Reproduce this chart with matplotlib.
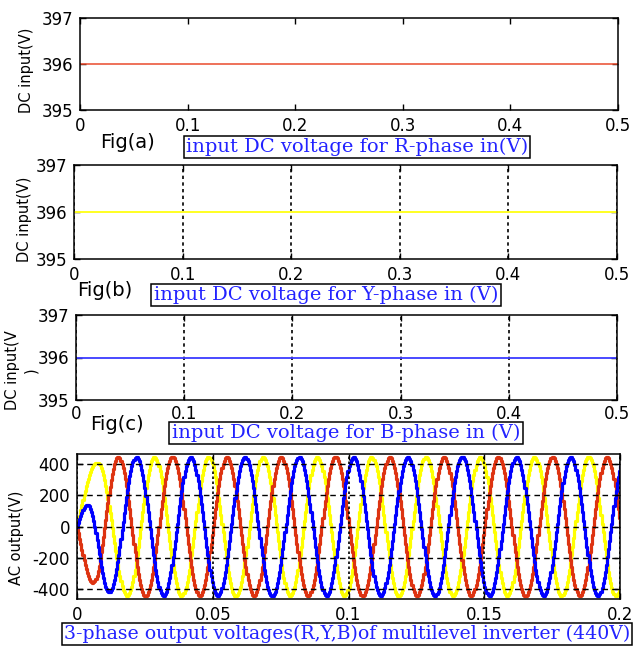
import numpy as np
import matplotlib
matplotlib.use("Agg")
import matplotlib.pyplot as plt

plt.rcParams['axes.unicode_minus'] = False
plt.rcParams['font.family'] = ['DejaVu Sans']

# ---------------- data ----------------
dc_time = [0.0, 0.5]
dc_R = [396, 396]
dc_Y = [396, 396]
dc_B = [396, 396]
dc_xticks = [0, 0.1, 0.2, 0.3, 0.4, 0.5]
dc_xticklabels = ["0", "0.1", "0.2", "0.3", "0.4", "0.5"]
dc_yticks = [395, 396, 397]

ac_xticks = [0, 0.05, 0.1, 0.15, 0.2]
ac_xticklabels = ["0", "0.05", "0.1", "0.15", "0.2"]
ac_yticks = [-400, -200, 0, 200, 400]

# AC waveform parameters
freq = 50.0              # Hz (10 cycles in 0.2 s)
amp = 445.0              # steady peak (V)
phase_deg = {'R': 180.0, 'Y': -60.0, 'B': 60.0}   # sin(wt + phi)
# start-up extrema (time s, value V)
first_ext_t = {'R': [0.0058], 'Y': [0.0074], 'B': [0.0037]}
first_ext_v = {'R': [-360.0], 'Y': [410.0], 'B': [140.0, -420.0]}
sample_dt = 0.0004       # staircase step of the inverter output


def waveform(ph, t):
    phi = phase_deg[ph]
    k0 = np.ceil(-((90 - phi) / 360.0) * 2)
    ks = np.arange(k0, k0 + 30)
    te = ((90 - phi) / 360.0 + ks / 2.0) / freq
    ve = amp * np.sin(2 * np.pi * freq * te + np.radians(phi))
    te = te[te > 0]
    ve = ve[-len(te):]
    for i, v in enumerate(first_ext_v[ph]):
        ve[i] = v
    for i, tt in enumerate(first_ext_t[ph]):
        te[i] = tt
    out = np.zeros_like(t)
    for j, tt in enumerate(t):
        idx = np.searchsorted(te, tt)
        if idx == 0:
            out[j] = ve[0] * np.sin(np.pi / 2 * tt / te[0])
        else:
            a, b = ve[idx - 1], ve[idx]
            s = (tt - te[idx - 1]) / (te[idx] - te[idx - 1])
            out[j] = a + (b - a) * (1 - np.cos(np.pi * s)) / 2
    return out


t_ac = np.arange(0, 0.2 + sample_dt, sample_dt)
v_R = waveform('R', t_ac)
v_Y = waveform('Y', t_ac)
v_B = waveform('B', t_ac)

# ---------------- figure ----------------
W, H = 633, 646
fig = plt.figure(figsize=(W / 100, H / 100), dpi=100)


def add_ax(left, right, top, bottom):
    return fig.add_axes([left / W, 1 - bottom / H, (right - left) / W, (bottom - top) / H])


def style(ax):
    ax.tick_params(direction='in', top=True, right=True, length=4, width=1,
                   labelsize=12, pad=5)
    for s in ax.spines.values():
        s.set_linewidth(1.1)


box_kw = dict(boxstyle='square,pad=0.12', fc='white', ec='black', lw=1.1)
serif = ['DejaVu Serif']
blue_txt = '#2222ff'

# Panel a
ax1 = add_ax(80, 618, 18, 110)
ax1.plot(dc_time, dc_R, color='#ea4a2c', lw=1.1)
ax1.set_xlim(0, 0.5); ax1.set_ylim(395, 397)
ax1.set_xticks(dc_xticks); ax1.set_xticklabels(dc_xticklabels)
ax1.set_yticks(dc_yticks)
style(ax1)

# Panel b
ax2 = add_ax(74, 617, 165, 259)
ax2.plot(dc_time, dc_Y, color='#ffff22', lw=1.4)
ax2.set_xlim(0, 0.5); ax2.set_ylim(395, 397)
ax2.set_xticks(dc_xticks); ax2.set_xticklabels(dc_xticklabels)
ax2.set_yticks(dc_yticks)
ax2.grid(axis='x', color='black', ls=(0, (2, 2)), lw=1.2)
style(ax2)

# Panel c
ax3 = add_ax(76, 617, 315, 400)
ax3.plot(dc_time, dc_B, color='#3a3aff', lw=1.3)
ax3.set_xlim(0, 0.5); ax3.set_ylim(395, 397)
ax3.set_xticks(dc_xticks); ax3.set_xticklabels(dc_xticklabels)
ax3.set_yticks(dc_yticks)
ax3.grid(axis='x', color='black', ls=(0, (2, 2)), lw=1.2)
ax3.tick_params(axis='x', pad=4)
style(ax3)
ax3.tick_params(axis='x', pad=3.5)

# Panel d
ax4 = add_ax(77, 620, 454, 599)
ax4.plot(t_ac, v_Y, color='#ffff00', lw=2.3, drawstyle='steps-post')
ax4.plot(t_ac, v_R, color='#dd3311', lw=2.3, drawstyle='steps-post')
ax4.plot(t_ac, v_B, color='#0000ff', lw=2.3, drawstyle='steps-post')
ax4.set_xlim(0, 0.2); ax4.set_ylim(-465, 465)
ax4.set_xticks(ac_xticks); ax4.set_xticklabels(ac_xticklabels)
ax4.set_yticks(ac_yticks)
ax4.set_axisbelow(False)
ax4.grid(axis='y', color='black', ls=(0, (4, 3)), lw=1.0)
ax4.grid(axis='x', color='black', ls=(0, (1.5, 1.5)), lw=1.2)
style(ax4)

# y labels
def ftext(x, y, s, **kw):
    fig.text(x / W, 1 - y / H, s, **kw)

ftext(27, 70, "DC input(V)", rotation=90, ha='center', va='center', fontsize=10.5)
ftext(24, 219, "DC input(V)", rotation=90, ha='center', va='center', fontsize=10.5)
ftext(22, 370, "DC input(V\n)", rotation=90, ha='center', va='center', fontsize=10.5,
      multialignment='center', linespacing=1.3)
ftext(17, 538, "AC output(V)", rotation=90, ha='center', va='center', fontsize=10.5)

# Fig labels
ftext(127, 143, "Fig(a)", ha='center', va='center', fontsize=14)
ftext(105, 290, "Fig(b)", ha='center', va='center', fontsize=14)
ftext(117, 425, "Fig(c)", ha='center', va='center', fontsize=14)

# boxed captions
ftext(357, 147, "input DC voltage for R-phase in(V)", ha='center', va='center',
      fontsize=14, family=serif, color=blue_txt, bbox=box_kw)
ftext(326, 295, "input DC voltage for Y-phase in (V)", ha='center', va='center',
      fontsize=14, family=serif, color=blue_txt, bbox=box_kw)
ftext(346, 433, "input DC voltage for B-phase in (V)", ha='center', va='center',
      fontsize=14, family=serif, color=blue_txt, bbox=box_kw)
ftext(347, 634, "3-phase output voltages(R,Y,B)of multilevel inverter (440V)",
      ha='center', va='center', fontsize=13.6, family=serif, color=blue_txt, bbox=box_kw)

fig.savefig("out.png", dpi=100)
